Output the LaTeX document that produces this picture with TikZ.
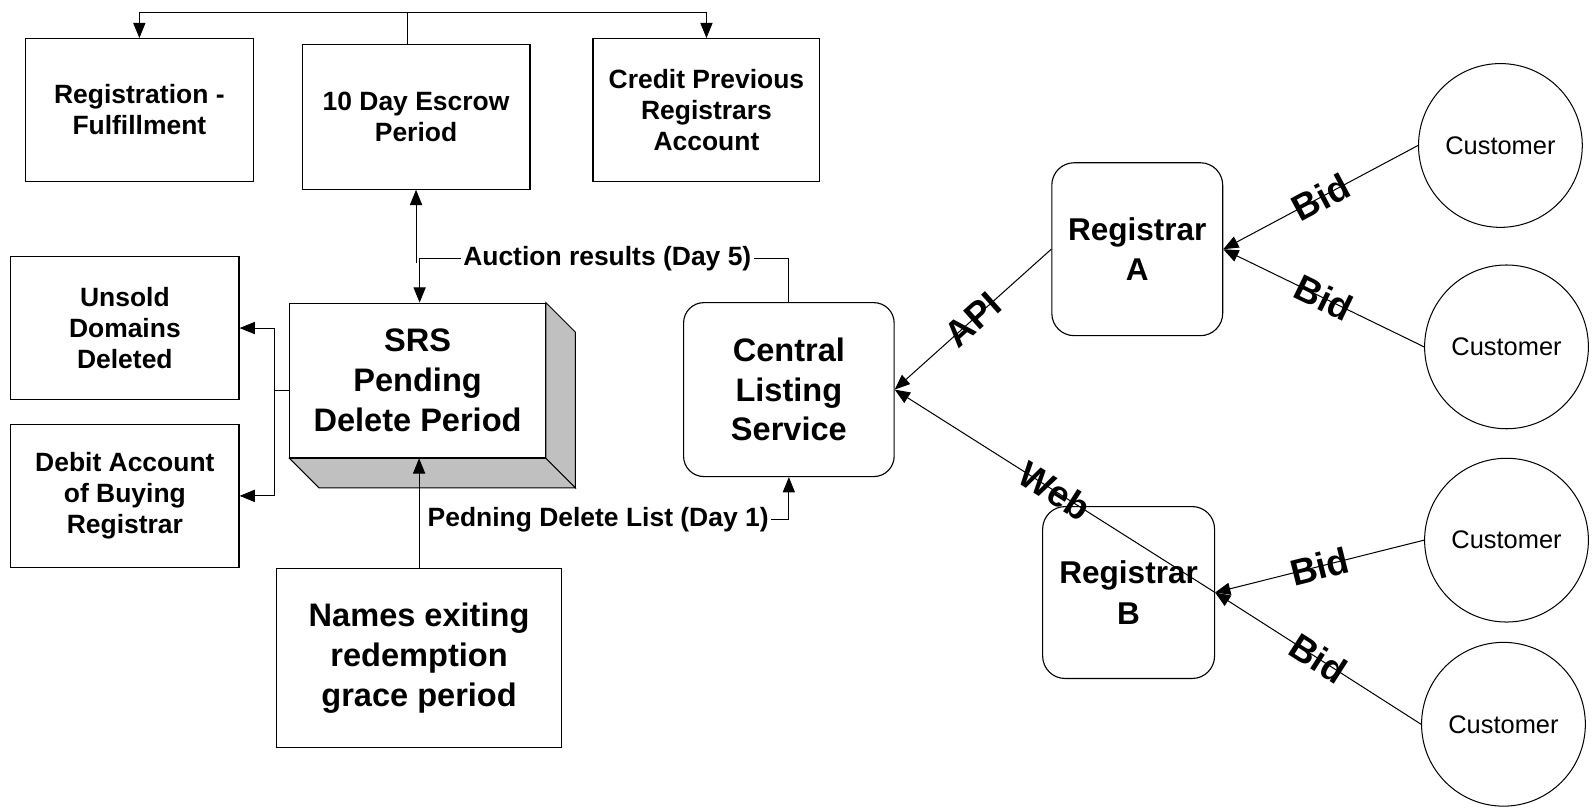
\documentclass[tikz,border=0pt]{standalone}
\usepackage{fontspec}
\setmainfont{Liberation Sans}
\usetikzlibrary{arrows.meta,calc}
\definecolor{shade}{RGB}{192,192,192}
\begin{document}
\begin{tikzpicture}[x=1pt,y=-1pt,
 ln/.style={line width=1pt},
 arr/.style={ln,-{Triangle[length=15pt,width=12pt]}},
 bx/.style={draw,line width=1.1pt,fill=white,inner sep=0pt,align=center,font=\bfseries\fontsize{26}{30.5}\selectfont},
 big/.style={bx,font=\bfseries\fontsize{32}{39}\selectfont},
 rbx/.style={big,rounded corners=20pt},
 cust/.style={draw,line width=1pt,circle,minimum size=161pt,inner sep=0pt,font=\fontsize{25}{30}\selectfont},
 lbl/.style={font=\bfseries\fontsize{26}{30}\selectfont,inner sep=2pt},
 slab/.style={sloped,pos=0.5,font=\bfseries\fontsize{36}{40}\selectfont,inner sep=0pt}]

\useasboundingbox (0,0) rectangle (1568,794);

% top boxes
\node[bx,minimum width=224pt,minimum height=140pt] (reg) at (137,108) {Registration -\\Fulfillment};
\node[bx,minimum width=224pt,minimum height=142pt] (esc) at (409,115) {10 Day Escrow\\Period};
\node[bx,minimum width=223pt,minimum height=140pt] (cred) at (694.5,108) {Credit Previous\\Registrars\\Account};

% left boxes
\node[bx,minimum width=224.5pt,minimum height=141pt] (uns) at (122.75,322.5) {Unsold\\Domains\\Deleted};
\node[bx,minimum width=224.5pt,minimum height=141pt] (deb) at (122.75,487.5) {Debit Account\\of Buying\\Registrar};

% SRS 3D box
\node[big,minimum width=251pt,minimum height=152pt] (srs) at (410.5,374) {SRS\\Pending\\Delete Period};
\draw[ln,fill=shade] (srs.north east) -- ($(srs.north east)+(29,29)$) -- ($(srs.south east)+(29,29)$) -- (srs.south east) -- cycle;
\draw[ln,fill=shade] (srs.south west) -- (srs.south east) -- ($(srs.south east)+(29,29)$) -- ($(srs.south west)+(29,29)$) -- cycle;

% central listing service
\node[rbx,minimum width=207pt,minimum height=171pt] (cls) at (775.5,383) {Central\\Listing\\Service};

% names exiting
\node[big,minimum width=280pt,minimum height=176pt] (names) at (412,647) {Names exiting\\redemption\\grace period};

% registrars
\node[rbx,rounded corners=22pt,minimum width=168pt,minimum height=170pt,font=\bfseries\fontsize{31}{39.5}\selectfont] (ra) at (1118,245) {Registrar\\A};
\node[rbx,rounded corners=22pt,minimum width=169pt,minimum height=169pt,font=\bfseries\fontsize{31}{39.5}\selectfont] (rb) at (1109.5,582.5) {Registrar\\B};

% customers
\node[cust] (c1) at (1475,143) {Customer};
\node[cust] (c2) at (1481,341) {Customer};
\node[cust] (c3) at (1481,531) {Customer};
\node[cust] (c4) at (1478,712) {Customer};

% labels
\node[lbl] (auc) at (597,254) {Auction results (Day 5)};
\node[lbl] (ped) at (588,511) {Pedning Delete List (Day 1)};

% top distribution
\coordinate (tj) at (401,12);
\draw[ln] (esc.north -| tj) -- (tj);
\draw[arr] (tj) -| (reg.north);
\draw[arr] (tj) -| (cred.north);

% escrow link
\coordinate (ej) at (409,259);
\draw[arr] (ej) -- (esc.south);

% auction results
\draw[ln] (cls.north) |- (auc.east);
\draw[arr] (auc.west) -| ([xshift=2pt]srs.north);

% srs to left boxes
\coordinate (lj) at (270,383.6);
\draw[ln] (lj -| srs.west) -- (lj);
\draw[arr] (lj) |- (uns.east);
\draw[arr] (lj) |- (deb.east);

% names to srs and central listing
\draw[arr] (names.north) -- (names.north |- srs.south);
\draw[arr] (ped.east) -| (cls.south);

% registrars and customers
\draw[arr] (c1.west) -- node[slab]{Bid} (ra.east);
\draw[arr] (c2.west) -- node[slab]{Bid} (ra.east);
\draw[arr] (c3.west) -- node[slab]{Bid} (rb.east);
\draw[arr] (c4.west) -- node[slab]{Bid} (rb.east);
\draw[arr] (ra.west) -- node[slab]{API} (cls.east);
\draw[arr] (rb.east) -- node[slab]{Web} (cls.east);
\end{tikzpicture}
\end{document}
